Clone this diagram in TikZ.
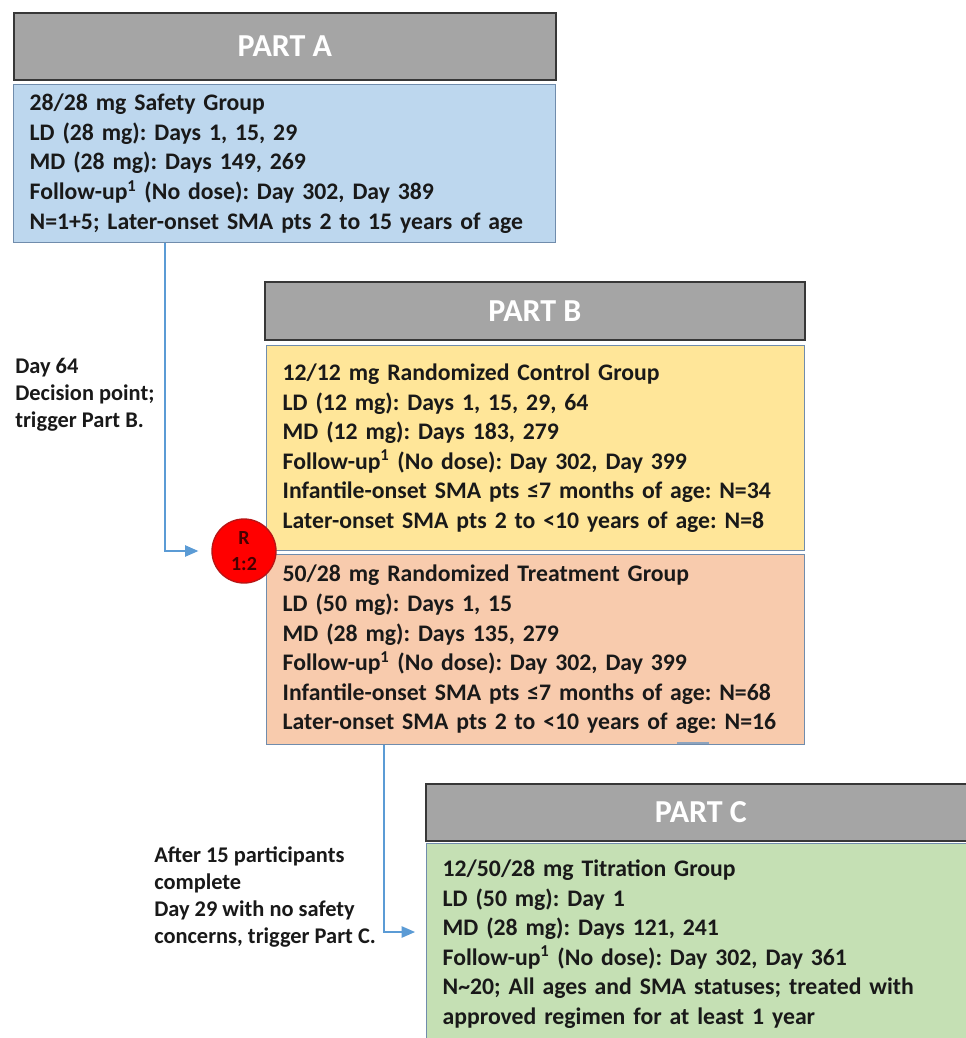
\documentclass[tikz,border=0pt]{standalone}
\usepackage{fontspec}
\setmainfont{Carlito}
\frenchspacing
\usetikzlibrary{arrows.meta,calc}
\definecolor{hdrfill}{RGB}{165,165,165}
\definecolor{hdredge}{RGB}{55,55,55}
\definecolor{boxedge}{RGB}{112,140,172}
\definecolor{bluefill}{RGB}{189,215,238}
\definecolor{yellowfill}{RGB}{255,230,153}
\definecolor{peachfill}{RGB}{248,203,173}
\definecolor{greenfill}{RGB}{197,224,180}
\definecolor{flowblue}{RGB}{91,155,213}
\definecolor{randred}{RGB}{255,0,0}
\definecolor{randedge}{RGB}{185,20,20}
\definecolor{randtext}{RGB}{70,0,0}
\definecolor{bodytext}{RGB}{25,25,25}
\tikzset{
  parthead/.style={draw=hdredge, fill=hdrfill, line width=1.3pt, anchor=north west,
    inner sep=0pt, text=white, font=\fontsize{24pt}{28pt}\selectfont\bfseries},
  bodybox/.style={draw=boxedge, line width=1pt, anchor=north west, align=left,
    inner xsep=12pt, inner ysep=0pt, text=bodytext,
    font=\fontsize{17.8pt}{22.2pt}\selectfont\bfseries},
  sidenote/.style={anchor=west, align=left, inner sep=0pt, text=bodytext,
    font=\fontsize{16.8pt}{20.3pt}\selectfont\bfseries},
  flowln/.style={-{Triangle[length=10pt,width=8.5pt]}, line width=1.1pt, flowblue},
  randdot/.style={circle, draw=randedge, fill=randred, line width=1pt, minimum size=48pt,
    inner sep=0pt, align=center, text=randtext, font=\fontsize{15pt}{20pt}\selectfont\bfseries},
}

\begin{document}
\begin{tikzpicture}[x=0.75pt, y=-0.75pt]
    \useasboundingbox[fill=white] (0,0) rectangle (966,1038);
    % part A
    \node[parthead, minimum width=406.5pt, minimum height=50.25pt] (headA) at (13,12) {PART A};
    \node[bodybox, fill=bluefill, text width=382.5pt, minimum height=118.5pt] (bodyA) at (13,84)
      {28/28 mg Safety Group\\
       LD (28 mg): Days 1, 15, 29\\
       MD (28 mg): Days 149, 269\\
       Follow-up\textsuperscript{1} (No dose): Day 302, Day 389\\
       N=1+5; Later-onset SMA pts 2 to 15 years of age};
    % part B
    \node[parthead, minimum width=405pt, minimum height=43.5pt] (headB) at (264,281) {PART B};
    \node[bodybox, fill=yellowfill, text width=379.5pt, minimum height=153.75pt] (bodyBc) at (266,345)
      {12/12 mg Randomized Control Group\\
       LD (12 mg): Days 1, 15, 29, 64\\
       MD (12 mg): Days 183, 279\\
       Follow-up\textsuperscript{1} (No dose): Day 302, Day 399\\
       Infantile-onset SMA pts ≤7 months of age: N=34\\
       Later-onset SMA pts 2 to <10 years of age: N=8};
    \node[bodybox, fill=peachfill, text width=379.5pt, minimum height=142.5pt] (bodyBt) at (266,554)
      {50/28 mg Randomized Treatment Group\\
       LD (50 mg): Days 1, 15\\
       MD (28 mg): Days 135, 279\\
       Follow-up\textsuperscript{1} (No dose): Day 302, Day 399\\
       Infantile-onset SMA pts ≤7 months of age: N=68\\
       Later-onset SMA pts 2 to <10 years of age: N=16};
    \draw[boxedge!80, line width=1.6pt] ($(bodyBt.south west)+(411,-2)$) -- ++(32,0);
    % part C
    \node[parthead, minimum width=412.5pt, minimum height=42.75pt] (headC) at (425,783) {PART C};
    \node[bodybox, fill=greenfill, text width=388.5pt, minimum height=150.75pt] (bodyC) at (426,843)
      {12/50/28 mg Titration Group\\
       LD (50 mg): Day 1\\
       MD (28 mg): Days 121, 241\\
       Follow-up\textsuperscript{1} (No dose): Day 302, Day 361\\
       N\textasciitilde20; All ages and SMA statuses; treated with\\
       approved regimen for at least 1 year};
    % randomisation
    \node[randdot] (rand) at (244,551) {R\\1:2};
    % triggers
    \node[sidenote] (trigB) at (15,395) {Day 64\\Decision point;\\trigger Part B.};
    \node[sidenote] (trigC) at (154,897) {After 15 participants\\complete\\Day 29 with no safety\\concerns, trigger Part C.};
    \draw[flowln, shorten >=9.75pt] ($(bodyA.south west)+(152,0)$) |- (rand.west);
    \draw[flowln, shorten >=8.25pt] ($(bodyBt.south west)+(118,0)$) |- ($(bodyC.north west)+(0,89)$);
\end{tikzpicture}
\end{document}
